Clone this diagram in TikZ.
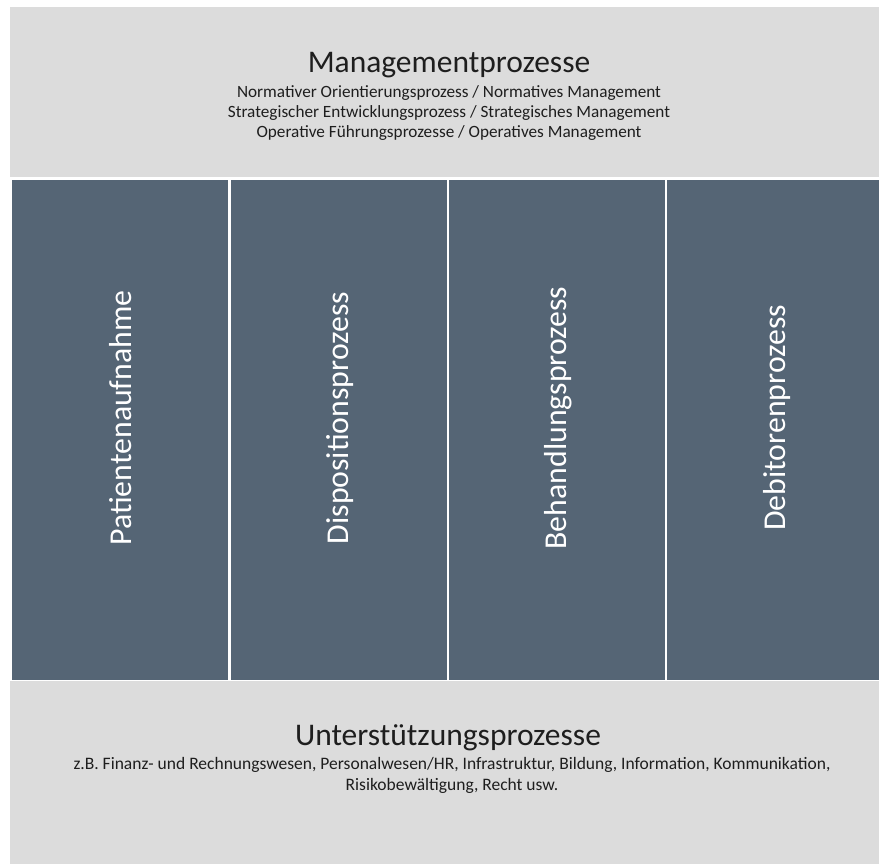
\documentclass[tikz,border=0pt]{standalone}
\usepackage{fontspec}
\setmainfont{Carlito}
\definecolor{boxgray}{HTML}{DCDCDC}
\definecolor{slate}{HTML}{556575}
\definecolor{txt}{HTML}{1E1E1E}
\begin{document}
\begin{tikzpicture}[x=1pt,y=-1pt,
  panel/.style={fill=boxgray,draw=none},
  column/.style={fill=slate,draw=none},
  coltext/.style={text=white,font=\fontsize{31.8}{36}\selectfont,rotate=90,inner sep=0pt},
  title/.style={text=txt,font=\fontsize{31.5}{36}\selectfont,inner sep=0pt},
  sub/.style={text=txt,font=\fontsize{17.2}{20}\selectfont,align=center,inner sep=0pt}]
\useasboundingbox (0,0) rectangle (879,864);
\fill[white] (0,0) rectangle (879,864);
% panels
\fill[panel] (10,7) rectangle (879,177);
\fill[panel] (10,681) rectangle (879,864);
% columns
\fill[column] (12,180) rectangle (228,680);
\fill[column] (231,180) rectangle (447,680);
\fill[column] (449,180) rectangle (665,680);
\fill[column] (667,180) rectangle (879,680);
% top texts
\node[title] (mt) at (449,65) {Managementprozesse};
\node[sub] (ms) at (449,113) {Normativer Orientierungsprozess / Normatives Management\\Strategischer Entwicklungsprozess / Strategisches Management\\Operative Führungsprozesse / Operatives Management};
% column labels
\node[coltext] (c1) at (121,418) {Patientenaufnahme};
\node[coltext] (c2) at (340,418) {Dispositionsprozess};
\node[coltext] (c3) at (558,418) {Behandlungsprozess};
\node[coltext] (c4) at (777,418) {Debitorenprozess};
% bottom texts
\node[title] (ut) at (448,738) {Unterstützungsprozesse};
\node[sub,font=\fontsize{17.5}{21}\selectfont] (us) at (452,775) {z.B. Finanz- und Rechnungswesen, Personalwesen/HR, Infrastruktur, Bildung, Information, Kommunikation,\\Risikobewältigung, Recht usw.};
\end{tikzpicture}
\end{document}
